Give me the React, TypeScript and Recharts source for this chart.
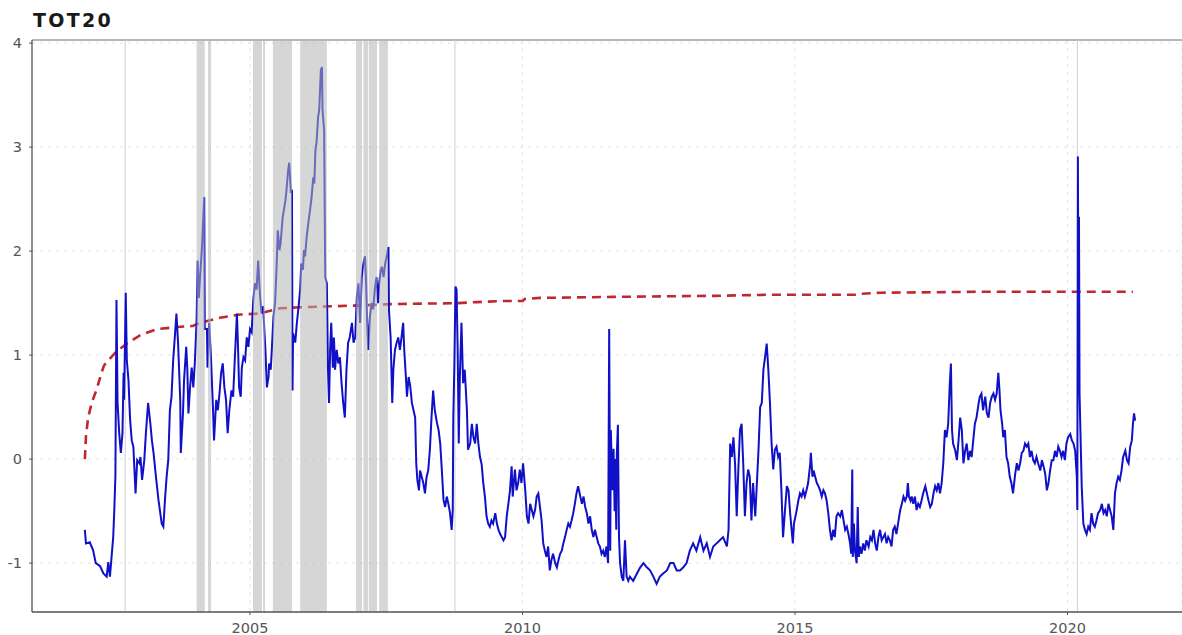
import React from "react";
import {
  LineChart,
  Line,
  XAxis,
  YAxis,
  CartesianGrid,
  ReferenceArea,
  ReferenceLine,
} from "recharts";

// TOT20 indicator as [year, value] pairs, split by period
const tot20_2002_2003: [number, number][] = [
  [2001.97, -0.68], [2001.99, -0.81], [2002.06, -0.8], [2002.12, -0.875], [2002.17, -1.0],
  [2002.25, -1.03], [2002.31, -1.1], [2002.37, -1.13], [2002.4, -0.99], [2002.43, -1.13],
  [2002.46, -0.94], [2002.49, -0.75], [2002.51, -0.49], [2002.53, -0.17], [2002.55, 1.53],
  [2002.57, 0.54], [2002.6, 0.25], [2002.63, 0.06], [2002.66, 0.25], [2002.68, 0.83],
  [2002.69, 0.57], [2002.72, 1.6], [2002.74, 0.95], [2002.77, 0.76], [2002.8, 0.38],
  [2002.83, 0.18], [2002.86, 0.12], [2002.9, -0.33], [2002.93, -0.01], [2002.97, -0.04],
  [2002.99, 0.02], [2003.02, -0.2], [2003.06, -0.01], [2003.09, 0.25], [2003.13, 0.54],
  [2003.17, 0.35], [2003.2, 0.18], [2003.23, 0.06], [2003.28, -0.2], [2003.32, -0.39],
  [2003.38, -0.62], [2003.41, -0.65], [2003.44, -0.39], [2003.47, -0.17], [2003.5, -0.01],
  [2003.53, 0.47], [2003.56, 0.6], [2003.59, 0.95], [2003.62, 1.17], [2003.65, 1.4],
  [2003.68, 1.12], [2003.72, 0.57], [2003.73, 0.06], [2003.77, 0.44], [2003.79, 0.76],
  [2003.83, 1.08], [2003.85, 0.86], [2003.87, 0.44], [2003.9, 0.69], [2003.93, 0.88],
  [2003.96, 0.69], [2003.99, 0.95],
];

const tot20_2004_2005: [number, number][] = [
  [2004.02, 1.34], [2004.04, 1.91], [2004.06, 1.55], [2004.09, 1.8], [2004.12, 2.05],
  [2004.14, 2.3], [2004.16, 2.52], [2004.17, 1.25], [2004.21, 1.25], [2004.22, 0.88],
  [2004.25, 1.31], [2004.28, 1.02], [2004.32, 0.5], [2004.34, 0.18], [2004.38, 0.57],
  [2004.41, 0.47], [2004.44, 0.63], [2004.47, 0.83], [2004.5, 0.92], [2004.53, 0.69],
  [2004.56, 0.57], [2004.59, 0.25], [2004.62, 0.47], [2004.66, 0.66], [2004.69, 0.6],
  [2004.72, 0.95], [2004.76, 1.4], [2004.78, 1.08], [2004.8, 0.69], [2004.83, 0.6],
  [2004.85, 0.88], [2004.88, 0.98], [2004.91, 0.95], [2004.94, 1.17], [2004.97, 1.08],
  [2005.0, 1.25], [2005.03, 1.22], [2005.06, 1.53], [2005.09, 1.69], [2005.12, 1.63],
  [2005.15, 1.91], [2005.18, 1.6], [2005.21, 1.4], [2005.24, 1.47], [2005.28, 1.08],
  [2005.31, 0.69], [2005.34, 0.79],
];

const tot20_2005_2008: [number, number][] = [
  [2005.35, 0.92], [2005.38, 0.86], [2005.4, 1.05], [2005.43, 1.37], [2005.46, 1.5],
  [2005.49, 1.88], [2005.51, 2.2], [2005.54, 2.01], [2005.56, 2.07], [2005.6, 2.33],
  [2005.62, 2.39], [2005.65, 2.49], [2005.67, 2.59], [2005.7, 2.78], [2005.72, 2.85],
  [2005.75, 2.56], [2005.77, 2.59], [2005.78, 0.66], [2005.79, 1.21], [2005.83, 1.12],
  [2005.86, 1.31], [2005.89, 1.46], [2005.92, 1.63], [2005.94, 1.88], [2005.97, 1.82],
  [2005.99, 2.01], [2006.01, 1.95], [2006.04, 2.14], [2006.07, 2.27], [2006.1, 2.39],
  [2006.13, 2.52], [2006.16, 2.71], [2006.18, 2.65], [2006.2, 2.97], [2006.22, 3.04],
  [2006.25, 3.29], [2006.27, 3.36], [2006.3, 3.74], [2006.32, 3.77], [2006.33, 3.36],
  [2006.36, 3.16], [2006.38, 1.75], [2006.41, 1.69], [2006.43, 0.88], [2006.45, 0.54],
  [2006.47, 1.05], [2006.49, 1.31], [2006.52, 0.88], [2006.54, 1.17], [2006.56, 0.86],
  [2006.59, 1.05], [2006.62, 0.92], [2006.65, 0.98], [2006.68, 0.73], [2006.71, 0.54],
  [2006.74, 0.4], [2006.77, 0.86], [2006.8, 1.12], [2006.83, 1.17], [2006.87, 1.31],
  [2006.9, 1.12], [2006.93, 1.17], [2006.96, 1.56], [2006.99, 1.69], [2007.02, 1.31],
  [2007.05, 1.75], [2007.08, 1.88], [2007.11, 1.95], [2007.13, 1.69], [2007.15, 1.31],
  [2007.17, 1.05], [2007.2, 1.37], [2007.23, 1.5], [2007.26, 1.44], [2007.29, 1.63],
  [2007.32, 1.75], [2007.35, 1.5], [2007.37, 1.69], [2007.4, 1.82], [2007.42, 1.85],
  [2007.45, 1.75], [2007.48, 1.88], [2007.51, 1.95], [2007.54, 2.04], [2007.55, 1.43],
  [2007.58, 1.17], [2007.61, 0.54], [2007.63, 0.86], [2007.66, 1.05], [2007.69, 1.12],
  [2007.72, 1.17], [2007.75, 1.05], [2007.78, 1.17], [2007.81, 1.31], [2007.83, 1.05],
  [2007.86, 0.79], [2007.88, 0.6], [2007.91, 0.79], [2007.94, 0.7], [2007.97, 0.54],
  [2008.0, 0.47], [2008.03, 0.4], [2008.05, -0.04], [2008.07, -0.2], [2008.1, -0.3],
  [2008.12, -0.11], [2008.15, -0.17], [2008.18, -0.23], [2008.21, -0.33], [2008.24, -0.17],
  [2008.27, -0.11], [2008.3, 0.09], [2008.33, 0.4], [2008.36, 0.66], [2008.39, 0.47],
  [2008.43, 0.35], [2008.46, 0.28], [2008.49, 0.15], [2008.52, -0.11], [2008.55, -0.39],
  [2008.58, -0.46], [2008.61, -0.36], [2008.64, -0.43], [2008.67, -0.52], [2008.7, -0.68],
  [2008.72, -0.49], [2008.73, 0.4], [2008.75, 0.92], [2008.77, 1.66], [2008.79, 1.63],
  [2008.81, 1.05], [2008.83, 0.15], [2008.85, 0.79], [2008.88, 1.31], [2008.91, 0.73],
  [2008.94, 0.86], [2008.98, 0.47], [2009.0, 0.09],
];

const tot20_2009_2014: [number, number][] = [
  [2009.04, 0.15], [2009.07, 0.34], [2009.1, 0.21], [2009.13, 0.15], [2009.16, 0.34],
  [2009.19, 0.15], [2009.22, 0.02], [2009.25, -0.05], [2009.28, -0.23], [2009.31, -0.36],
  [2009.34, -0.55], [2009.37, -0.62], [2009.4, -0.65], [2009.43, -0.59], [2009.46, -0.62],
  [2009.5, -0.52], [2009.53, -0.62], [2009.56, -0.68], [2009.59, -0.72], [2009.62, -0.75],
  [2009.65, -0.78], [2009.68, -0.75], [2009.71, -0.55], [2009.74, -0.43], [2009.77, -0.3],
  [2009.8, -0.07], [2009.82, -0.36], [2009.84, -0.23], [2009.86, -0.1], [2009.89, -0.3],
  [2009.92, -0.23], [2009.95, -0.1], [2009.98, -0.23], [2010.01, -0.04], [2010.05, -0.3],
  [2010.08, -0.55], [2010.11, -0.62], [2010.14, -0.43], [2010.17, -0.49], [2010.2, -0.55],
  [2010.23, -0.49], [2010.26, -0.36], [2010.29, -0.33], [2010.32, -0.46], [2010.35, -0.59],
  [2010.38, -0.81], [2010.41, -0.88], [2010.44, -0.94], [2010.47, -0.84], [2010.5, -1.07],
  [2010.53, -0.97], [2010.56, -0.91], [2010.6, -1.0], [2010.63, -1.04], [2010.66, -0.97],
  [2010.69, -0.91], [2010.72, -0.88], [2010.75, -0.81], [2010.78, -0.75], [2010.81, -0.68],
  [2010.84, -0.62], [2010.87, -0.65], [2010.9, -0.59], [2010.93, -0.52], [2010.96, -0.43],
  [2010.99, -0.33], [2011.02, -0.26], [2011.06, -0.36], [2011.09, -0.43], [2011.12, -0.36],
  [2011.15, -0.46], [2011.18, -0.52], [2011.21, -0.62], [2011.24, -0.55], [2011.27, -0.68],
  [2011.3, -0.75], [2011.33, -0.68], [2011.36, -0.75], [2011.39, -0.81], [2011.42, -0.84],
  [2011.45, -0.91], [2011.48, -0.88], [2011.51, -0.94], [2011.54, -0.84], [2011.57, -1.0],
  [2011.59, 1.25], [2011.61, -0.88], [2011.62, 0.28], [2011.65, -0.3], [2011.67, 0.1],
  [2011.69, -0.5], [2011.7, 0.0], [2011.72, -0.68], [2011.73, 0.05], [2011.75, 0.33],
  [2011.77, -0.75], [2011.79, -1.0], [2011.82, -1.13], [2011.85, -1.17], [2011.88, -0.78],
  [2011.91, -1.13], [2011.94, -1.17], [2011.97, -1.13], [2012.03, -1.17], [2012.1, -1.1],
  [2012.16, -1.04], [2012.22, -1.0], [2012.28, -1.04], [2012.34, -1.07], [2012.4, -1.13],
  [2012.46, -1.2], [2012.52, -1.13], [2012.58, -1.1], [2012.65, -1.07], [2012.71, -1.0],
  [2012.77, -1.0], [2012.83, -1.07], [2012.89, -1.07], [2012.95, -1.04], [2013.01, -1.0],
  [2013.07, -0.88], [2013.13, -0.81], [2013.19, -0.88], [2013.26, -0.75], [2013.32, -0.88],
  [2013.38, -0.81], [2013.44, -0.94], [2013.5, -0.84], [2013.56, -0.81], [2013.62, -0.78],
  [2013.68, -0.75], [2013.75, -0.84], [2013.78, -0.68], [2013.81, 0.15], [2013.84, 0.02],
  [2013.87, 0.21], [2013.9, -0.05], [2013.93, -0.55], [2013.96, -0.1], [2013.99, 0.28],
  [2014.02, 0.34], [2014.05, -0.05], [2014.08, -0.55], [2014.11, -0.23], [2014.14, -0.1],
  [2014.17, -0.17], [2014.2, -0.59], [2014.23, -0.23], [2014.27, -0.55], [2014.3, -0.23],
  [2014.33, 0.09], [2014.36, 0.5], [2014.39, 0.54], [2014.42, 0.86], [2014.45, 0.98],
  [2014.48, 1.11], [2014.51, 0.86], [2014.54, 0.54], [2014.57, 0.15], [2014.6, -0.1],
  [2014.63, 0.09], [2014.66, 0.12], [2014.69, 0.02],
];

const tot20_2014_2021: [number, number][] = [
  [2014.72, 0.06], [2014.75, -0.3], [2014.78, -0.75], [2014.82, -0.46], [2014.85, -0.26],
  [2014.88, -0.3], [2014.91, -0.52], [2014.96, -0.81], [2014.98, -0.62], [2015.02, -0.52],
  [2015.06, -0.4], [2015.09, -0.33], [2015.12, -0.36], [2015.15, -0.3], [2015.18, -0.36],
  [2015.21, -0.3], [2015.24, -0.23], [2015.28, -0.04], [2015.29, 0.06], [2015.32, -0.17],
  [2015.34, -0.11], [2015.37, -0.17], [2015.4, -0.23], [2015.43, -0.26], [2015.46, -0.3],
  [2015.49, -0.36], [2015.52, -0.3], [2015.55, -0.33], [2015.58, -0.4], [2015.61, -0.52],
  [2015.64, -0.68], [2015.67, -0.78], [2015.7, -0.68], [2015.73, -0.75], [2015.76, -0.55],
  [2015.79, -0.52], [2015.83, -0.55], [2015.86, -0.49], [2015.89, -0.59], [2015.92, -0.68],
  [2015.95, -0.65], [2015.98, -0.72], [2016.01, -0.81], [2016.03, -0.91], [2016.05, -0.1],
  [2016.06, -0.94], [2016.08, -0.62], [2016.1, -0.88], [2016.13, -1.0], [2016.15, -0.46],
  [2016.17, -0.94], [2016.19, -0.84], [2016.22, -0.91], [2016.25, -0.81], [2016.28, -0.88],
  [2016.31, -0.78], [2016.35, -0.84], [2016.38, -0.75], [2016.41, -0.78], [2016.44, -0.68],
  [2016.47, -0.81], [2016.5, -0.88], [2016.53, -0.75], [2016.56, -0.68], [2016.59, -0.78],
  [2016.62, -0.75], [2016.65, -0.72], [2016.68, -0.81], [2016.71, -0.75], [2016.74, -0.78],
  [2016.77, -0.84], [2016.8, -0.68], [2016.83, -0.65], [2016.86, -0.72], [2016.89, -0.62],
  [2016.93, -0.49], [2016.96, -0.43], [2016.99, -0.36], [2017.02, -0.4], [2017.05, -0.36],
  [2017.07, -0.23], [2017.09, -0.36], [2017.12, -0.4], [2017.14, -0.36], [2017.17, -0.43],
  [2017.2, -0.36], [2017.23, -0.49], [2017.26, -0.43], [2017.29, -0.46], [2017.32, -0.4],
  [2017.35, -0.33], [2017.39, -0.26], [2017.42, -0.33], [2017.45, -0.4], [2017.48, -0.46],
  [2017.51, -0.43], [2017.54, -0.33], [2017.57, -0.26], [2017.6, -0.3], [2017.63, -0.23],
  [2017.66, -0.33], [2017.69, -0.23], [2017.72, -0.04], [2017.75, 0.28], [2017.78, 0.21],
  [2017.81, 0.34], [2017.84, 0.73], [2017.86, 0.92], [2017.88, 0.28], [2017.9, 0.15],
  [2017.94, 0.08], [2017.97, -0.01], [2018.0, 0.18], [2018.03, 0.4], [2018.06, 0.28],
  [2018.09, -0.04], [2018.12, 0.08], [2018.15, 0.15], [2018.18, -0.01], [2018.21, 0.08],
  [2018.24, 0.02], [2018.27, 0.18], [2018.3, 0.34], [2018.33, 0.4], [2018.37, 0.54],
  [2018.39, 0.6], [2018.42, 0.63], [2018.45, 0.47], [2018.49, 0.6], [2018.52, 0.44],
  [2018.55, 0.4], [2018.58, 0.54], [2018.61, 0.6], [2018.64, 0.63], [2018.67, 0.57],
  [2018.7, 0.63], [2018.73, 0.83], [2018.75, 0.67], [2018.77, 0.47], [2018.8, 0.34],
  [2018.82, 0.21], [2018.85, 0.28], [2018.88, 0.02], [2018.91, -0.04], [2018.94, -0.17],
  [2018.97, -0.23], [2019.0, -0.33], [2019.04, -0.14], [2019.07, -0.04], [2019.1, -0.11],
  [2019.13, -0.04], [2019.16, 0.06], [2019.19, 0.08], [2019.22, 0.15], [2019.25, 0.12],
  [2019.28, 0.15], [2019.31, 0.02], [2019.34, 0.08], [2019.37, -0.01], [2019.4, -0.04],
  [2019.43, 0.02], [2019.46, -0.04], [2019.5, -0.11], [2019.53, -0.01], [2019.56, -0.07],
  [2019.59, -0.14], [2019.62, -0.3], [2019.65, -0.23], [2019.68, -0.11], [2019.71, -0.01],
  [2019.74, -0.01], [2019.77, 0.08], [2019.8, 0.02], [2019.83, 0.12], [2019.86, 0.08],
  [2019.89, 0.02], [2019.92, 0.08], [2019.95, -0.01], [2019.98, 0.15], [2020.01, 0.21],
  [2020.05, 0.24], [2020.08, 0.18], [2020.11, 0.15], [2020.14, 0.08], [2020.17, -0.17],
  [2020.18, -0.49], [2020.19, 2.91], [2020.2, 1.2], [2020.21, 2.33], [2020.22, 0.63],
  [2020.26, -0.26], [2020.29, -0.62], [2020.32, -0.68], [2020.35, -0.72], [2020.38, -0.65],
  [2020.41, -0.68], [2020.44, -0.52], [2020.47, -0.62], [2020.5, -0.65], [2020.53, -0.59],
  [2020.56, -0.52], [2020.6, -0.49], [2020.63, -0.43], [2020.66, -0.52], [2020.69, -0.49],
  [2020.72, -0.55], [2020.75, -0.43], [2020.78, -0.49], [2020.81, -0.55], [2020.84, -0.68],
  [2020.87, -0.33], [2020.9, -0.23], [2020.93, -0.17], [2020.96, -0.2], [2020.99, -0.11],
  [2021.02, 0.02], [2021.06, 0.08], [2021.09, -0.01], [2021.12, -0.04], [2021.15, 0.12],
  [2021.18, 0.18], [2021.2, 0.34], [2021.22, 0.44], [2021.24, 0.37],
];

// expanding threshold (dashed red)
const threshold: [number, number][] = [
  [2001.97, 0.0], [2001.99, 0.22], [2002.03, 0.4], [2002.1, 0.55], [2002.18, 0.66],
  [2002.27, 0.82], [2002.32, 0.9], [2002.4, 0.95], [2002.56, 1.04], [2002.74, 1.11],
  [2002.98, 1.19], [2003.29, 1.25], [2003.66, 1.27], [2003.95, 1.28], [2004.08, 1.31],
  [2004.45, 1.36], [2004.82, 1.39], [2005.18, 1.4], [2005.55, 1.45], [2005.92, 1.46],
  [2006.52, 1.47], [2007.15, 1.48], [2007.57, 1.49], [2008.8, 1.5], [2009.17, 1.51],
  [2009.59, 1.52], [2010.0, 1.52], [2010.04, 1.54], [2010.32, 1.55], [2011.66, 1.56],
  [2013.5, 1.57], [2014.49, 1.58], [2016.14, 1.58], [2016.2, 1.59], [2016.56, 1.6],
  [2018.58, 1.61], [2021.2, 1.61],
];

// periods where TOT20 sits above the threshold
const shadedSpells: [number, number][] = [
  [2004.02, 2004.17], [2004.23, 2004.285], [2005.055, 2005.22], [2005.24, 2005.275],
  [2005.42, 2005.77], [2005.92, 2006.41], [2006.945, 2007.055], [2007.08, 2007.165],
  [2007.18, 2007.33], [2007.37, 2007.53],
];

const eventDates = [2002.71, 2008.76, 2020.18];

const xTicks = [2005, 2010, 2015, 2020];
const yTicks = [-1, 0, 1, 2, 3, 4];

const toPoints = (rows: [number, number][]) => rows.map(([t, v]) => ({ t, v }));

const tot20Data = toPoints([
  ...tot20_2002_2003,
  ...tot20_2004_2005,
  ...tot20_2005_2008,
  ...tot20_2009_2014,
  ...tot20_2014_2021,
]);
const thresholdData = toPoints(threshold);

const Y_MIN = -1.47;
const Y_MAX = 4.03;

const tickStyle = { fill: "#555", fontSize: 14.5, fontFamily: "DejaVu Sans" };

export default function App() {
  return (
    <div style={{ position: "absolute", left: 0, top: 0, width: 1182, height: 635, background: "#fff" }}>
      <div
        style={{
          position: "absolute",
          left: 33,
          top: 11,
          fontFamily: "DejaVu Sans",
          fontWeight: "bold",
          fontSize: 19,
          lineHeight: "19px",
          letterSpacing: 2.3,
          color: "#1a1a1a",
        }}
      >
        TOT20
      </div>
      <LineChart width={1182} height={635} margin={{ top: 40, right: 0, bottom: 0, left: 0 }}>
        <CartesianGrid stroke="#e2e2e2" strokeDasharray="3 5" />
        <XAxis
          dataKey="t"
          type="number"
          domain={[2001.0, 2022.1]}
          ticks={xTicks}
          allowDataOverflow
          height={23}
          tickSize={3}
          tickMargin={8}
          axisLine={{ stroke: "#555", strokeWidth: 1.3 }}
          tickLine={{ stroke: "#555" }}
          tick={tickStyle}
        />
        <YAxis
          type="number"
          domain={[Y_MIN, Y_MAX]}
          ticks={yTicks}
          allowDataOverflow
          width={32}
          tickSize={3}
          tickMargin={7}
          axisLine={{ stroke: "#555", strokeWidth: 1.3 }}
          tickLine={{ stroke: "#555" }}
          tick={tickStyle}
        />
        <ReferenceLine y={Y_MAX} stroke="#a0a0a0" strokeWidth={1.6} />
        {eventDates.map((d) => (
          <ReferenceLine key={d} x={d} stroke="#cfcfcf" strokeWidth={1} />
        ))}
        <Line
          data={thresholdData}
          dataKey="v"
          type="linear"
          stroke="#c0282d"
          strokeWidth={2.6}
          strokeDasharray="9 6"
          dot={false}
          isAnimationActive={false}
        />
        <Line
          data={tot20Data}
          dataKey="v"
          type="linear"
          stroke="#1010c8"
          strokeWidth={2}
          dot={false}
          isAnimationActive={false}
        />
        {shadedSpells.map(([a, b]) => (
          <ReferenceArea
            key={a}
            x1={a}
            x2={b}
            y1={Y_MIN}
            y2={Y_MAX}
            fill="#b5b5b5"
            fillOpacity={0.55}
            stroke="none"
            zIndex={450}
          />
        ))}
      </LineChart>
    </div>
  );
}
